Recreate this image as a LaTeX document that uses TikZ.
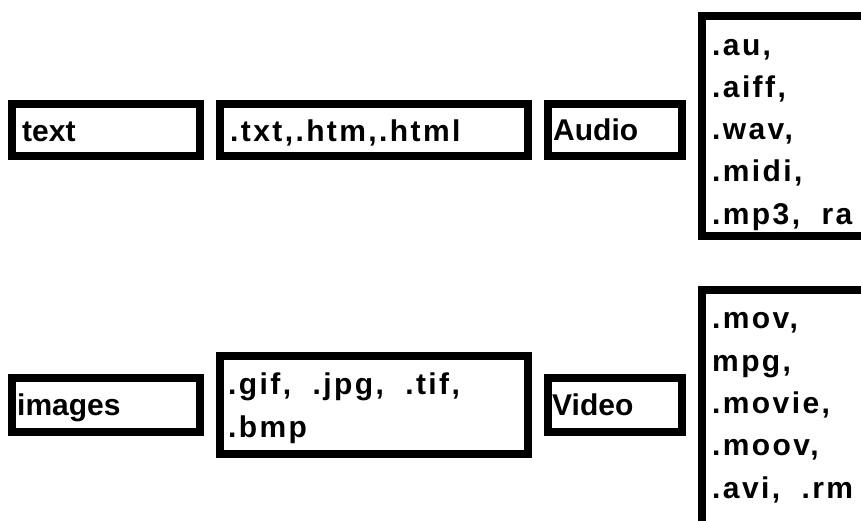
\documentclass[tikz,border=0pt]{standalone}
\usepackage{fontspec}
\setmainfont{Liberation Sans}
\newfontfamily\lblfont{Liberation Sans}
\newfontfamily\extfont[LetterSpace=8]{Liberation Sans}
\tikzset{
  fbox/.style={draw=black, line width=8pt, fill=none},
  lbl/.style={inner sep=0pt, anchor=base west, font=\lblfont\bfseries\fontsize{30}{36}\selectfont},
  ext/.style={inner sep=0pt, anchor=base west, align=left, font=\extfont\bfseries\fontsize{30}{42.3}\selectfont},
}
\begin{document}
\begin{tikzpicture}[x=1pt, y=-1pt]
\useasboundingbox (0,0) rectangle (861,520);
\clip (0,0) rectangle (861,520);
% boxes
\draw[fbox] (12,104) rectangle (200,156);
\draw[fbox] (220,104) rectangle (528,156);
\draw[fbox] (548,104) rectangle (682,156);
\draw[fbox] (702,16) rectangle (875,236);
\draw[fbox] (12,378) rectangle (200,432);
\draw[fbox] (220,356) rectangle (528,454);
\draw[fbox] (548,378) rectangle (682,432);
\draw[fbox] (702,290) rectangle (875,535);
% texts (multi-line nodes are anchored at the baseline of their last line)
\node[lbl] (text) at (22,141) {text};
\node[ext] (txt) at (230,141) {.txt,.htm,.html};
\node[lbl] (audio) at (553,140) {Audio};
\node[ext] (audiolist) at (712,224.2) {.au,\\.aiff,\\.wav,\\.midi,\\.mp3,~~ra};
\node[lbl] (images) at (17,415) {images};
\node[ext] (giflist) at (228,437) {.gif,~~.jpg,~~.tif,\\.bmp};
\node[lbl] (video) at (552,415) {Video};
\node[ext] (videolist) at (712,498) {.mov,\\mpg,\\.movie,\\.moov,\\.avi,~~.rm};
\end{tikzpicture}
\end{document}
